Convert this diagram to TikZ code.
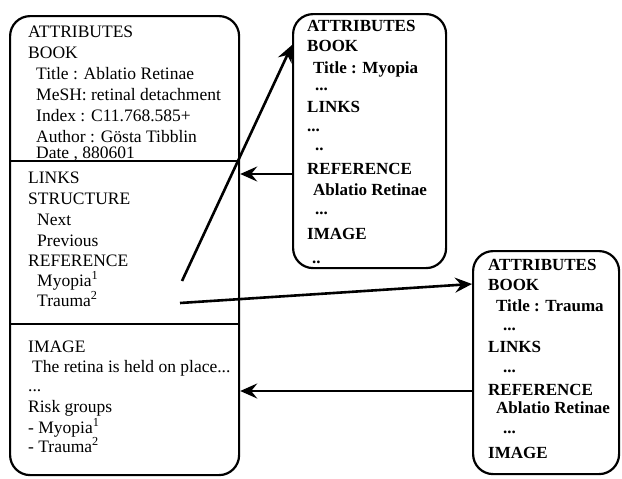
\documentclass[tikz,border=0pt]{standalone}
\usepackage{fontspec}
\setmainfont{Liberation Serif}
\usetikzlibrary{arrows.meta}

\tikzset{
  card/.style={draw, line width=2.2pt, rounded corners=20pt, anchor=north west, inner sep=0pt},
  txt/.style={anchor=base west, inner sep=0pt, font=\fontsize{17.5}{20}\selectfont},
  btxt/.style={anchor=base west, inner sep=0pt, font=\fontsize{17}{20}\selectfont\bfseries},
  link/.style={-{Stealth[length=17pt, width=15pt, inset=6pt]}, line width=2.6pt},
}

\begin{document}
\begin{tikzpicture}[x=1pt, y=-1pt]
    \useasboundingbox (0,0) rectangle (622,479);
    % main document
    \node[card, minimum width=229pt, minimum height=459pt] (Ablatio) at (9,15) {};
    \draw[line width=2pt] (Ablatio.west |- 0,161) -- (Ablatio.east |- 0,161);
    \draw[line width=2pt] (Ablatio.west |- 0,324) -- (Ablatio.east |- 0,324);
    \node[txt] (Ablatio Attributes) at (28,37) {ATTRIBUTES};
    \node[txt] (Ablatio Book) at (28,58) {BOOK};
    \node[txt] (Ablatio Title) at (36,79) {Title : Ablatio Retinae};
    \node[txt] (Ablatio MeSH) at (36,100) {MeSH: retinal detachment};
    \node[txt] (Ablatio Index) at (36,121) {Index : C11.768.585+};
    \node[txt] (Ablatio Author) at (36,142) {Author : Gösta Tibblin};
    \node[txt] (Ablatio Date) at (36,158) {Date , 880601};
    \node[txt] (Ablatio Links) at (28,183) {LINKS};
    \node[txt] (Ablatio Structure) at (28,204) {STRUCTURE};
    \node[txt] (Ablatio Next) at (37,225) {Next};
    \node[txt] (Ablatio Previous) at (37,246) {Previous};
    \node[txt] (Ablatio Reference) at (28,266) {REFERENCE};
    \node[txt] (Ablatio Myopia) at (37,286) {Myopia\textsuperscript{1}};
    \node[txt] (Ablatio Trauma) at (37,306) {Trauma\textsuperscript{2}};
    \node[txt] (Ablatio Image) at (28,352) {IMAGE};
    \node[txt] (Ablatio Retina) at (32,372) {The retina is held on place...};
    \node[txt] (Ablatio Dots) at (28,391) {...};
    \node[txt] (Ablatio Risk) at (28,412) {Risk groups};
    \node[txt] (Ablatio Risk Myopia) at (28,433) {- Myopia\textsuperscript{1}};
    \node[txt] (Ablatio Risk Trauma) at (28,452) {- Trauma\textsuperscript{2}};
    % linked document: Myopia
    \node[card, minimum width=153pt, minimum height=254pt] (Myopia) at (292,13) {};
    \node[btxt] (Myopia Attributes) at (307,31) {ATTRIBUTES};
    \node[btxt] (Myopia Book) at (307,52) {BOOK};
    \node[btxt] (Myopia Title) at (313,73) {Title : Myopia};
    \node[btxt] (Myopia Dots A) at (315,90) {...};
    \node[btxt] (Myopia Links) at (307,112) {LINKS};
    \node[btxt] (Myopia Dots B) at (307,131) {...};
    \node[btxt] (Myopia Dots C) at (315,150) {..};
    \node[btxt] (Myopia Reference) at (307,174) {REFERENCE};
    \node[btxt] (Myopia Ablatio) at (313,195) {Ablatio Retinae};
    \node[btxt] (Myopia Dots D) at (315,214) {...};
    \node[btxt] (Myopia Image) at (307,239) {IMAGE};
    \node[btxt] (Myopia Dots E) at (312,263) {..};
    % linked document: Trauma
    \node[card, minimum width=146pt, minimum height=223pt] (Trauma) at (472,250) {};
    \node[btxt] (Trauma Attributes) at (488,270) {ATTRIBUTES};
    \node[btxt] (Trauma Book) at (488,290) {BOOK};
    \node[btxt] (Trauma Title) at (496,311) {Title : Trauma};
    \node[btxt] (Trauma Dots A) at (503,330) {...};
    \node[btxt] (Trauma Links) at (488,352) {LINKS};
    \node[btxt] (Trauma Dots B) at (503,372) {...};
    \node[btxt] (Trauma Reference) at (488,395) {REFERENCE};
    \node[btxt] (Trauma Ablatio) at (496,413) {Ablatio Retinae};
    \node[btxt] (Trauma Dots C) at (503,433) {...};
    \node[btxt] (Trauma Image) at (488,458) {IMAGE};
    % link ends
    \coordinate (Myopia Out) at (182,281);
    \coordinate (Myopia In) at (Myopia.west |- 0,45);
    \coordinate (Myopia Back) at (Myopia.west |- 0,174);
    \coordinate (Ablatio Back A) at (Ablatio.east |- 0,174);
    \coordinate (Trauma Out) at (180,303);
    \coordinate (Trauma In) at (Trauma.west |- 0,284);
    \coordinate (Trauma Back) at (Trauma.west |- 0,391);
    \coordinate (Ablatio Back B) at (Ablatio.east |- 0,391);
    \draw[link] (Myopia Out) -- (Myopia In);
    \draw[link] (Myopia Back) -- (Ablatio Back A);
    \draw[link] (Trauma Out) -- (Trauma In);
    \draw[link] (Trauma Back) -- (Ablatio Back B);
\end{tikzpicture}
\end{document}
